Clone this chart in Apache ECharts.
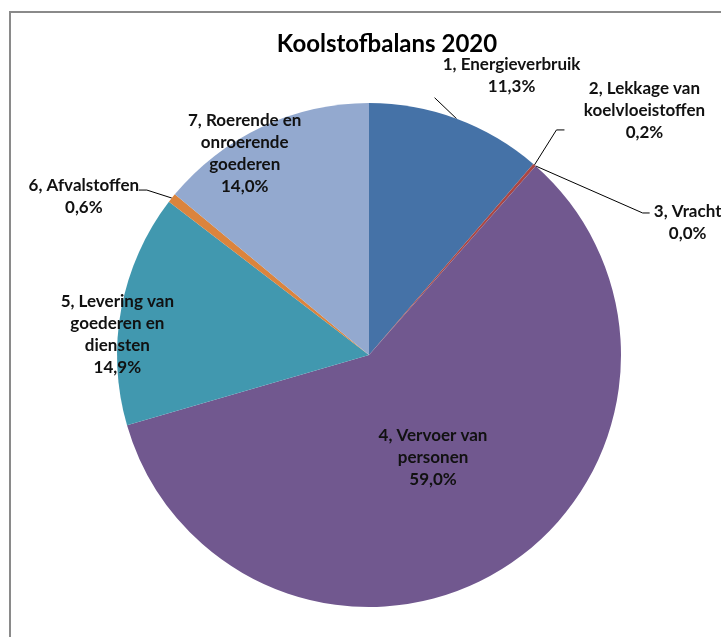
<!DOCTYPE html>
<html><head><meta charset="utf-8">
<script src="https://cdn.jsdelivr.net/npm/echarts@6/dist/echarts.min.js"></script>
<style>html,body{margin:0;padding:0;background:#fff;overflow:hidden}#c{width:721px;height:637px}</style>
</head><body><div id="c"></div>
<script>
// ---- data ----
const titleText = 'Koolstofbalans 2020';
const categories = [
  '1, Energieverbruik',
  '2, Lekkage van\nkoelvloeistoffen',
  '3, Vracht',
  '4, Vervoer van\npersonen',
  '5, Levering van\ngoederen en\ndiensten',
  '6, Afvalstoffen',
  '7, Roerende en\nonroerende\ngoederen'
];
const values = [11.3, 0.2, 0.0, 59.0, 14.9, 0.6, 14.0];

// ---- style ----
const colors = ['#4572A7', '#AA4643', '#89A54E', '#71588F', '#4198AF', '#DB843D', '#93A9CF'];
const CX = 369, CY = 355, R = 252;
// label placement relative to the slice's outer mid point (px)
const placement = [
  { inside: false, label: [55, -43], line: [[-22, -21], [-22, -21]] },
  { inside: false, label: [110, -54], line: [[22, -35], [30, -35]] },
  { inside: false, label: [152, 57], line: [[107, 47], [114, 47]] },
  { inside: true,  label: [-71, -110] },
  { inside: true,  label: [-4, 26] },
  { inside: false, label: [-88, -2], line: [[-25, -8], [-33, -8]] },
  { inside: true,  label: [-17, 27] }
];

const total = values.reduce((a, b) => a + b, 0);
const edgePoints = [];
let cum = 0;
values.forEach(v => {
  const a = (cum + v / 2) / total * 2 * Math.PI;
  edgePoints.push([CX + R * Math.sin(a), CY - R * Math.cos(a)]);
  cum += v;
});

const fmt = v => v.toFixed(1).replace('.', ',') + '%';

const chart = echarts.init(document.getElementById('c'), null, { renderer: 'canvas' });
chart.setOption({
  animation: false,
  backgroundColor: '#ffffff',
  title: {
    text: titleText,
    left: 382, top: 27, textAlign: 'center',
    textStyle: { fontFamily: 'Lato', fontWeight: 'bold', fontSize: 24, color: '#000' }
  },
  graphic: [{
    type: 'polyline', silent: true,
    shape: { points: [[10, 700], [10, 12], [760, 12]] },
    style: { fill: 'none', stroke: '#8a8a8a', lineWidth: 2 }
  }],
  series: [{
    type: 'pie',
    center: [CX, CY],
    radius: R,
    startAngle: 90,
    clockwise: true,
    avoidLabelOverlap: false,
    minShowLabelAngle: 0,
    itemStyle: { borderWidth: 0 },
    emphasis: { disabled: true },
    label: {
      show: true,
      fontFamily: 'Lato', fontWeight: 'bold', fontSize: 17, lineHeight: 22, color: '#111',
      formatter: p => p.name + '\n' + fmt(p.value)
    },
    labelLine: { show: true, lineStyle: { color: '#000', width: 1 } },
    labelLayout: function (p) {
      const i = p.dataIndex, pl = placement[i], e = edgePoints[i];
      const out = {
        x: e[0] + pl.label[0], y: e[1] + pl.label[1],
        align: 'center', verticalAlign: 'middle'
      };
      if (!pl.inside) {
        out.labelLinePoints = [e, [e[0] + pl.line[0][0], e[1] + pl.line[0][1]], [e[0] + pl.line[1][0], e[1] + pl.line[1][1]]];
      }
      return out;
    },
    data: categories.map((c, i) => ({
      name: c, value: values[i],
      itemStyle: { color: colors[i] },
      label: { position: placement[i].inside ? 'inside' : 'outside' },
      labelLine: { show: !placement[i].inside }
    }))
  }]
});
</script></body></html>
